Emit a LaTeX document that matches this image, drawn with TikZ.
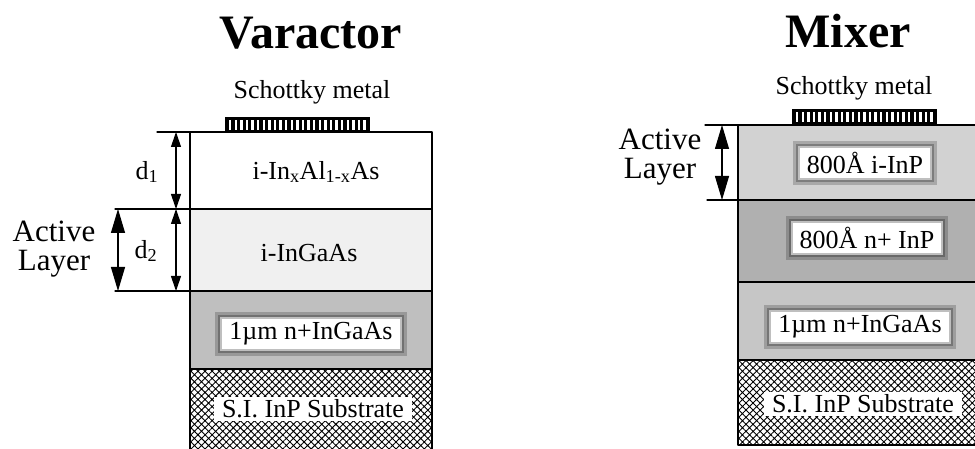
\documentclass[tikz,border=0pt]{standalone}
\usepackage{fontspec}
\setmainfont{Liberation Serif}
\usetikzlibrary{arrows.meta,patterns.meta}
\begin{document}
\begin{tikzpicture}[x=1pt, y=-1pt, font=\fontsize{26}{28}\selectfont, line join=round, line cap=round,
	layer/.style={draw, line width=1.2pt},
	labelbox/.style={fill=white, inner xsep=9pt, inner ysep=6pt, line join=miter,
		preaction={draw=black, draw opacity=0.2, line width=10pt},
		draw=black, draw opacity=0.25, line width=4pt},
	subbox/.style={fill=white, inner xsep=8pt, inner ysep=3pt},
	hatchfill/.style={pattern={Hatch[angle=45,distance=5pt,line width=0.9pt]}},
	dimarrow/.style={{Triangle[length=15pt,width=10pt]}-{Triangle[length=15pt,width=10pt]}, line width=1.1pt},
	bigarrow/.style={{Triangle[length=24pt,width=14pt]}-{Triangle[length=24pt,width=14pt]}, line width=1.1pt},
	sidelabel/.style={align=center, font=\fontsize{31}{29}\selectfont},
	title/.style={font=\fontsize{48}{52}\selectfont\bfseries}]
	\clip (0,0) rectangle (975,449);
	\fill[white] (0,0) rectangle (975,449);
	% Varactor
	\node[title] (vtitle) at (311,33) {Varactor};
	\node (vmetaltxt) at (312,92) {Schottky metal};
	\fill (225,117) rectangle (370,133);
	\foreach \i in {0,...,24}
		\fill[white] (229+5.6*\i,120) rectangle ++(2.4,10);
	\fill[white] (190,132) rectangle (432,209);
	\fill[gray!12] (190,209) rectangle (432,291);
	\fill[gray!50] (190,291) rectangle (432,369);
	\fill[white] (190,369) rectangle (432,460);
	\fill[hatchfill] (190,369) rectangle (432,460);
	\draw[layer] (157,132) -- (432,132) -- (432,460);
	\draw[layer] (190,132) -- (190,460);
	\draw[layer] (115,209) -- (432,209);
	\draw[layer] (115,291) -- (432,291);
	\draw[layer] (190,369) -- (432,369);
	\coordinate (vd1a) at (176,132);
	\coordinate (vd1b) at (176,209);
	\coordinate (vd2b) at (176,291);
	\coordinate (vala) at (118,209);
	\coordinate (valb) at (118,291);
	\draw[dimarrow] (vd1a) -- (vd1b);
	\draw[dimarrow] (vd1b) -- (vd2b);
	\draw[bigarrow] (vala) -- (valb);
	\node (vd1) at (147,172) {d\textsubscript{1}};
	\node (vd2) at (146,251) {d\textsubscript{2}};
	\node[sidelabel] (vactive) at (54,249) {Active\\Layer};
	\node (vl1) at (316,172) {i-In\textsubscript{x}Al\textsubscript{1-x}As};
	\node (vl2) at (309,253) {i-InGaAs};
	\node[labelbox] (vl3) at (311,334) {1µm n+InGaAs};
	\node[subbox] (vsub) at (313,409) {S.I. InP Substrate};
	% Mixer
	\node[title] (mtitle) at (848,31) {Mixer};
	\node (mmetaltxt) at (854,88) {Schottky metal};
	\fill (792,109) rectangle (937,126);
	\foreach \i in {0,...,24}
		\fill[white] (796+5.6*\i,112) rectangle ++(2.4,10);
	\fill[gray!35] (738,125) rectangle (990,200);
	\fill[gray!62] (738,200) rectangle (990,282);
	\fill[gray!45] (738,282) rectangle (990,360);
	\fill[white] (738,360) rectangle (990,445);
	\fill[hatchfill] (738,360) rectangle (990,445);
	\draw[layer] (705,125) -- (990,125);
	\draw[layer] (738,125) -- (738,445) -- (990,445);
	\draw[layer] (707,200) -- (990,200);
	\draw[layer] (738,282) -- (990,282);
	\draw[layer] (738,360) -- (990,360);
	\coordinate (mala) at (722,125);
	\coordinate (malb) at (722,200);
	\draw[bigarrow] (mala) -- (malb);
	\node[sidelabel] (mactive) at (660,157) {Active\\Layer};
	\node[labelbox] (ml1) at (865,163) {800Å i-InP};
	\node[labelbox] (ml2) at (867,238) {800Å n+ InP};
	\node[labelbox] (ml3) at (860,327) {1µm n+InGaAs};
	\node[subbox] (msub) at (863,404) {S.I. InP Substrate};
\end{tikzpicture}
\end{document}
